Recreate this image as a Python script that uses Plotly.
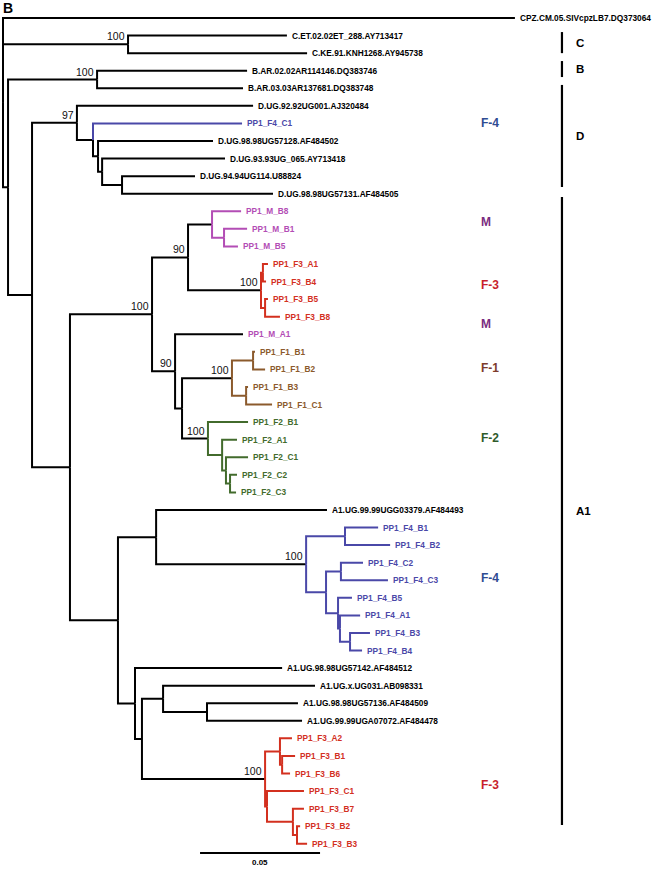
import plotly.graph_objects as go

# ---------------- data ----------------
leaf_names = [
    "CPZ.CM.05.SIVcpzLB7.DQ373064",
    "C.ET.02.02ET_288.AY713417",
    "C.KE.91.KNH1268.AY945738",
    "B.AR.02.02AR114146.DQ383746",
    "B.AR.03.03AR137681.DQ383748",
    "D.UG.92.92UG001.AJ320484",
    "PP1_F4_C1",
    "D.UG.98.98UG57128.AF484502",
    "D.UG.93.93UG_065.AY713418",
    "D.UG.94.94UG114.U88824",
    "D.UG.98.98UG57131.AF484505",
    "PP1_M_B8", "PP1_M_B1", "PP1_M_B5",
    "PP1_F3_A1", "PP1_F3_B4", "PP1_F3_B5", "PP1_F3_B8",
    "PP1_M_A1",
    "PP1_F1_B1", "PP1_F1_B2", "PP1_F1_B3", "PP1_F1_C1",
    "PP1_F2_B1", "PP1_F2_A1", "PP1_F2_C1", "PP1_F2_C2", "PP1_F2_C3",
    "A1.UG.99.99UGG03379.AF484493",
    "PP1_F4_B1", "PP1_F4_B2", "PP1_F4_C2", "PP1_F4_C3",
    "PP1_F4_B5", "PP1_F4_A1", "PP1_F4_B3", "PP1_F4_B4",
    "A1.UG.98.98UG57142.AF484512",
    "A1.UG.x.UG031.AB098331",
    "A1.UG.98.98UG57136.AF484509",
    "A1.UG.99.99UGA07072.AF484478",
    "PP1_F3_A2", "PP1_F3_B1", "PP1_F3_B6", "PP1_F3_C1",
    "PP1_F3_B7", "PP1_F3_B2", "PP1_F3_B3",
]
# distance from root (substitutions / site)
leaf_depths = [
    0.2133,
    0.1183, 0.1267,
    0.1017, 0.1000,
    0.1042, 0.0996, 0.0875, 0.0925, 0.0800, 0.1125,
    0.0992, 0.1017, 0.0979,
    0.1104, 0.1096, 0.1104, 0.1154,
    0.1000,
    0.1050, 0.1092, 0.1021, 0.1121,
    0.1021, 0.0975, 0.1021, 0.0975, 0.0971,
    0.1350,
    0.1563, 0.1613, 0.1500, 0.1604,
    0.1454, 0.1488, 0.1529, 0.1496,
    0.1163, 0.1300, 0.1229, 0.1246,
    0.1204, 0.1217, 0.1196, 0.1254,
    0.1254, 0.1238, 0.1267,
]

internal_names = [
    "root", "nC", "n1", "nB", "n2", "nD", "nD2", "nD3", "nD4", "nD5",
    "nA", "nU", "nMF3", "nM", "nM2", "nF3a", "nF3a1", "nF3a2",
    "nL", "nL2", "nF1", "nF1a", "nF1b", "nF2", "nF2b", "nF2c", "nF2d",
    "nA2", "nF4g", "nF4", "nF4a", "nF4b", "nF4c", "nF4d", "nF4e", "nF4f",
    "nA3", "nA4", "nA5", "nA6",
    "nF3b", "nF3b1", "nF3b1a", "nF3b2", "nF3b3", "nF3b4",
]
internal_children = [
    ["CPZ.CM.05.SIVcpzLB7.DQ373064", "nC", "n1"],
    ["C.ET.02.02ET_288.AY713417", "C.KE.91.KNH1268.AY945738"],
    ["nB", "n2"],
    ["B.AR.02.02AR114146.DQ383746", "B.AR.03.03AR137681.DQ383748"],
    ["nD", "nA"],
    ["D.UG.92.92UG001.AJ320484", "nD2"],
    ["PP1_F4_C1", "nD3"],
    ["D.UG.98.98UG57128.AF484502", "nD4"],
    ["D.UG.93.93UG_065.AY713418", "nD5"],
    ["D.UG.94.94UG114.U88824", "D.UG.98.98UG57131.AF484505"],
    ["nU", "nA2"],
    ["nMF3", "nL"],
    ["nM", "nF3a"],
    ["PP1_M_B8", "nM2"],
    ["PP1_M_B1", "PP1_M_B5"],
    ["nF3a1", "nF3a2"],
    ["PP1_F3_A1", "PP1_F3_B4"],
    ["PP1_F3_B5", "PP1_F3_B8"],
    ["PP1_M_A1", "nL2"],
    ["nF1", "nF2"],
    ["nF1a", "nF1b"],
    ["PP1_F1_B1", "PP1_F1_B2"],
    ["PP1_F1_B3", "PP1_F1_C1"],
    ["PP1_F2_B1", "nF2b"],
    ["PP1_F2_A1", "nF2c"],
    ["PP1_F2_C1", "nF2d"],
    ["PP1_F2_C2", "PP1_F2_C3"],
    ["nF4g", "nA3"],
    ["A1.UG.99.99UGG03379.AF484493", "nF4"],
    ["nF4a", "nF4b"],
    ["PP1_F4_B1", "PP1_F4_B2"],
    ["nF4c", "nF4d"],
    ["PP1_F4_C2", "PP1_F4_C3"],
    ["PP1_F4_B5", "nF4e"],
    ["PP1_F4_A1", "nF4f"],
    ["PP1_F4_B3", "PP1_F4_B4"],
    ["A1.UG.98.98UG57142.AF484512", "nA4"],
    ["nA5", "nF3b"],
    ["A1.UG.x.UG031.AB098331", "nA6"],
    ["A1.UG.98.98UG57136.AF484509", "A1.UG.99.99UGA07072.AF484478"],
    ["nF3b1", "nF3b2"],
    ["PP1_F3_A2", "nF3b1a"],
    ["PP1_F3_B1", "PP1_F3_B6"],
    ["PP1_F3_C1", "nF3b3"],
    ["PP1_F3_B7", "nF3b4"],
    ["PP1_F3_B2", "PP1_F3_B3"],
]
internal_depths = [
    0.0000, 0.0521, 0.0021, 0.0392, 0.0121, 0.0308, 0.0375, 0.0396, 0.0413, 0.0496,
    0.0279, 0.0621, 0.0771, 0.0871, 0.0921, 0.1075, 0.1083, 0.1092,
    0.0717, 0.0746, 0.0954, 0.1042, 0.1013, 0.0854, 0.0913, 0.0929, 0.0946,
    0.0479, 0.0638, 0.1263, 0.1425, 0.1346, 0.1408, 0.1396, 0.1404, 0.1446,
    0.0550, 0.0579, 0.0667, 0.0850,
    0.1092, 0.1154, 0.1163, 0.1100, 0.1208, 0.1225,
]

bootstrap_nodes = ["nC", "nB", "nD", "nU", "nMF3", "nF3a", "nL", "nF1", "nF2", "nF4", "nF3b"]
bootstrap_values = [100, 100, 97, 100, 90, 100, 90, 100, 100, 100, 100]

# coloured clades (all branches below these nodes) and coloured single leaves
colored_clades = {"nM": "M", "nF3a": "F3", "nF1": "F1", "nF2": "F2", "nF4": "F4", "nF3b": "F3"}
colored_leaves = {"PP1_F4_C1": "F4"}

group_label_texts = ["F-4", "M", "F-3", "M", "F-1", "F-2", "F-4", "F-3"]
group_label_keys = ["F4", "M", "F3", "M", "F1", "F2", "F4", "F3"]
group_label_rows = [6.0, 11.6, 15.2, 17.4, 19.9, 23.9, 31.9, 43.65]

subtype_names = ["C", "B", "D", "A1"]
subtype_row_start = [0.8, 2.45, 3.81, 10.19]
subtype_row_end = [2.0, 3.36, 9.62, 45.93]

scale_bar_length = 0.05

# ---------------- styles ----------------
branch_colors = {"M": "#b34db5", "F3": "#d3301f", "F1": "#8b5a2c",
                 "F2": "#426b2c", "F4": "#4a48a8", "": "#000000"}
label_colors = {"M": "#7a2d80", "F3": "#c81f2c", "F1": "#7d3b2b",
                "F2": "#2f5b2a", "F4": "#2f4c92"}
FONT = "Liberation Sans, Arial, sans-serif"

# ---------------- build tree geometry ----------------
depth = {n: d for n, d in zip(leaf_names, leaf_depths)}
depth.update({n: d for n, d in zip(internal_names, internal_depths)})
children = {n: c for n, c in zip(internal_names, internal_children)}
parent = {}
for p, cs in children.items():
    for c in cs:
        parent[c] = p

ypos = {n: i for i, n in enumerate(leaf_names)}


def get_y(n):
    if n in ypos:
        return ypos[n]
    cs = children[n]
    ys = [get_y(c) for c in cs]
    y = (ys[0] + ys[-1]) / 2.0
    ypos[n] = y
    return y


get_y("root")


def branch_group(n):
    if n in colored_leaves:
        return colored_leaves[n]
    a = parent.get(n)
    while a is not None:
        if a in colored_clades:
            return colored_clades[a]
        a = parent.get(a)
    return ""


def leaf_group(name):
    for key in ["M", "F1", "F2", "F3", "F4"]:
        if name.startswith("PP1_" + key + "_"):
            return key
    return ""


segs = {}
for n, p in parent.items():
    g = branch_group(n)
    xs, ys = segs.setdefault(g, ([], []))
    xs += [depth[p], depth[p], depth[n], None]
    ys += [ypos[p], ypos[n], ypos[n], None]

fig = go.Figure()
for g, (xs, ys) in segs.items():
    fig.add_trace(go.Scatter(x=xs, y=ys, mode="lines",
                             line=dict(color=branch_colors[g], width=2),
                             hoverinfo="skip", showlegend=False))

annotations = []
# leaf labels
for name in leaf_names:
    g = leaf_group(name)
    col = branch_colors[g] if g else "#000000"
    annotations.append(dict(x=depth[name], y=ypos[name], text=name, showarrow=False,
                            xanchor="left", yanchor="middle", xshift=3,
                            font=dict(family=FONT, size=8.3, color=col, weight="bold")))
# bootstrap values
for n, v in zip(bootstrap_nodes, bootstrap_values):
    annotations.append(dict(x=depth[n], y=ypos[n], text=str(v), showarrow=False,
                            xanchor="right", yanchor="bottom", xshift=-1, yshift=0,
                            font=dict(family=FONT, size=10.5, color="#111111")))
# group labels
grp_x = 0.1983
for t, k, r in zip(group_label_texts, group_label_keys, group_label_rows):
    annotations.append(dict(x=grp_x, y=r, text=t, showarrow=False,
                            xanchor="left", yanchor="middle",
                            font=dict(family=FONT, size=12, color=label_colors[k], weight="bold")))
# subtype bars
bar_x = 0.2329
bx, by = [], []
for nm, r0, r1 in zip(subtype_names, subtype_row_start, subtype_row_end):
    bx += [bar_x, bar_x, None]
    by += [r0, r1, None]
    annotations.append(dict(x=bar_x, y=(r0 + r1) / 2.0, text=nm, showarrow=False,
                            xanchor="left", yanchor="middle", xshift=12,
                            font=dict(family=FONT, size=11.5, color="#000000", weight="bold")))
fig.add_trace(go.Scatter(x=bx, y=by, mode="lines", line=dict(color="#000000", width=2.2),
                         hoverinfo="skip", showlegend=False))

# scale bar
sb_x0 = 0.0821
sb_row = 47.52
fig.add_trace(go.Scatter(x=[sb_x0, sb_x0 + scale_bar_length], y=[sb_row, sb_row], mode="lines",
                         line=dict(color="#000000", width=2), hoverinfo="skip", showlegend=False))
annotations.append(dict(x=sb_x0 + scale_bar_length / 2, y=sb_row, text=f"{scale_bar_length:.2f}",
                        showarrow=False, xanchor="center", yanchor="top", yshift=-3,
                        font=dict(family=FONT, size=8, color="#000000", weight="bold")))

# panel letter
annotations.append(dict(x=0, y=1, xref="paper", yref="paper", text="B", showarrow=False,
                        xanchor="left", yanchor="top", xshift=1, yshift=2,
                        font=dict(family=FONT, size=14, color="#000000", weight="bold")))

px_per_unit = 2400.0
fig.update_layout(
    width=657, height=869,
    margin=dict(l=0, r=0, t=0, b=0),
    paper_bgcolor="white", plot_bgcolor="white",
    annotations=annotations,
    xaxis=dict(range=[-3 / px_per_unit, 654 / px_per_unit], visible=False, fixedrange=True),
    yaxis=dict(range=[(869 - 18) / 17.57, -18 / 17.57], visible=False, fixedrange=True),
    showlegend=False,
)

fig.write_html("out.html", config={"displayModeBar": False},
               post_script="document.body.style.margin='0';document.body.style.overflow='hidden';")
